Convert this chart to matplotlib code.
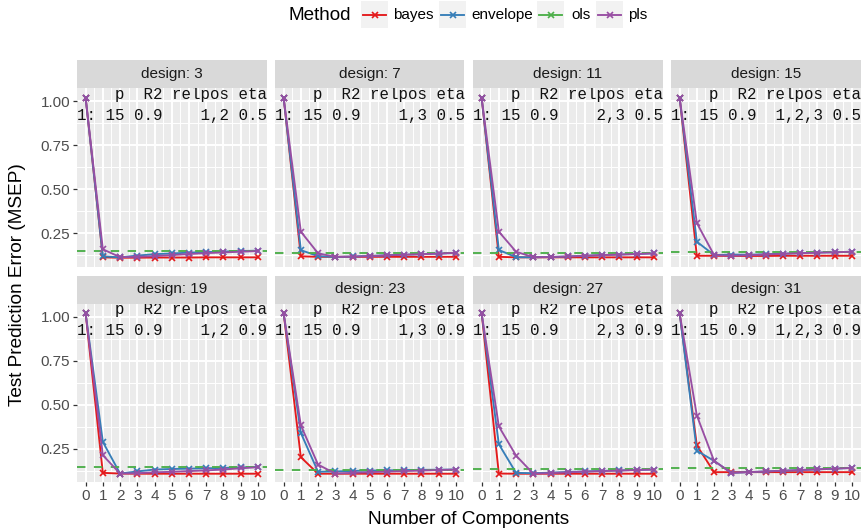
import matplotlib
matplotlib.use("Agg")
import matplotlib.pyplot as plt
from matplotlib.patches import Rectangle
import numpy as np

# MSEP by number of components, one row per design
components = np.arange(11)
designs = [3, 7, 11, 15, 19, 23, 27, 31]
relpos = ["1,2", "1,3", "2,3", "1,2,3", "1,2", "1,3", "2,3", "1,2,3"]
eta = ["0.5", "0.5", "0.5", "0.5", "0.9", "0.9", "0.9", "0.9"]
n_pred = 15
r2 = "0.9"

bayes = [
    [1.02, 0.112, 0.110, 0.110, 0.111, 0.111, 0.111, 0.112, 0.112, 0.112, 0.112],
    [1.02, 0.118, 0.115, 0.115, 0.115, 0.115, 0.115, 0.115, 0.115, 0.115, 0.115],
    [1.02, 0.115, 0.112, 0.112, 0.112, 0.112, 0.112, 0.112, 0.112, 0.112, 0.112],
    [1.02, 0.121, 0.121, 0.120, 0.120, 0.120, 0.121, 0.121, 0.121, 0.121, 0.121],
    [1.02, 0.112, 0.108, 0.107, 0.107, 0.107, 0.107, 0.107, 0.107, 0.107, 0.107],
    [1.02, 0.201, 0.107, 0.107, 0.107, 0.107, 0.107, 0.107, 0.107, 0.107, 0.107],
    [1.02, 0.108, 0.107, 0.107, 0.107, 0.107, 0.107, 0.107, 0.107, 0.107, 0.107],
    [1.02, 0.268, 0.116, 0.116, 0.116, 0.116, 0.116, 0.116, 0.116, 0.116, 0.116],
]
envelope = [
    [1.02, 0.118, 0.112, 0.122, 0.130, 0.134, 0.139, 0.142, 0.145, 0.148, 0.150],
    [1.02, 0.153, 0.119, 0.114, 0.117, 0.120, 0.124, 0.127, 0.130, 0.133, 0.137],
    [1.02, 0.154, 0.113, 0.112, 0.114, 0.117, 0.121, 0.125, 0.128, 0.131, 0.135],
    [1.02, 0.201, 0.125, 0.128, 0.127, 0.130, 0.133, 0.136, 0.139, 0.141, 0.144],
    [1.02, 0.288, 0.108, 0.120, 0.131, 0.134, 0.136, 0.138, 0.140, 0.143, 0.146],
    [1.02, 0.339, 0.118, 0.120, 0.123, 0.125, 0.126, 0.128, 0.129, 0.130, 0.131],
    [1.02, 0.275, 0.112, 0.110, 0.113, 0.117, 0.120, 0.123, 0.126, 0.129, 0.131],
    [1.02, 0.238, 0.180, 0.112, 0.116, 0.120, 0.124, 0.128, 0.132, 0.136, 0.140],
]
pls = [
    [1.02, 0.158, 0.113, 0.115, 0.119, 0.125, 0.131, 0.136, 0.140, 0.144, 0.148],
    [1.02, 0.258, 0.135, 0.115, 0.116, 0.119, 0.123, 0.127, 0.130, 0.134, 0.138],
    [1.02, 0.258, 0.144, 0.113, 0.114, 0.117, 0.121, 0.125, 0.128, 0.131, 0.135],
    [1.02, 0.307, 0.125, 0.121, 0.124, 0.128, 0.132, 0.136, 0.139, 0.141, 0.144],
    [1.02, 0.212, 0.108, 0.110, 0.115, 0.118, 0.122, 0.126, 0.131, 0.138, 0.144],
    [1.02, 0.382, 0.159, 0.108, 0.112, 0.116, 0.119, 0.122, 0.125, 0.128, 0.131],
    [1.02, 0.376, 0.210, 0.107, 0.111, 0.115, 0.119, 0.122, 0.125, 0.128, 0.131],
    [1.02, 0.438, 0.180, 0.112, 0.116, 0.120, 0.124, 0.128, 0.132, 0.136, 0.140],
]
ols = [0.150, 0.138, 0.138, 0.144, 0.146, 0.131, 0.135, 0.138]

methods = ["bayes", "envelope", "ols", "pls"]
colors = {"bayes": "#E41A1C", "envelope": "#377EB8", "ols": "#4DAF4A", "pls": "#984EA3"}

sans = "Liberation Sans"
mono = "Liberation Mono"
plt.rcParams["font.family"] = sans

W, H = 864, 531
fig = plt.figure(figsize=(W / 100, H / 100), dpi=100)


def px_axes(x0, y0, x1, y1):
    return fig.add_axes([x0 / W, 1 - y1 / H, (x1 - x0) / W, (y1 - y0) / H])


col_left = [77 + 198 * i for i in range(4)]
col_w = 189.5
row_top = [88, 303.5]
row_h = 178.5
strip_h = 28
lw = 1.35

for k, d in enumerate(designs):
    r, c = divmod(k, 4)
    x0, y0 = col_left[c], row_top[r]
    ax = px_axes(x0, y0, x0 + col_w, y0 + row_h)
    ax.set_facecolor("#EBEBEB")
    for s in ax.spines.values():
        s.set_visible(False)
    ax.set_xlim(-0.5, 10.5)
    ax.set_ylim(0.06, 1.075)
    ax.set_xticks(components)
    ax.set_xticks(np.arange(0.5, 10, 1), minor=True)
    ax.set_yticks([0.25, 0.50, 0.75, 1.00])
    ax.set_yticks([0.125, 0.375, 0.625, 0.875], minor=True)
    ax.grid(which="major", color="white", lw=1.4)
    ax.grid(which="minor", color="white", lw=0.7)
    ax.set_axisbelow(True)
    ax.tick_params(which="major", length=3, width=0.9, color="#333333",
                   labelsize=11, labelcolor="#4D4D4D", pad=2)
    ax.tick_params(which="minor", length=0)
    if r == 1:
        ax.set_xticklabels([str(v) for v in components])
    else:
        ax.set_xticklabels([])
        ax.tick_params(axis="x", which="major", length=0)
    if c == 0:
        ax.set_yticklabels(["0.25", "0.50", "0.75", "1.00"])
    else:
        ax.set_yticklabels([])
        ax.tick_params(axis="y", which="major", length=0)

    series = {"bayes": bayes[k], "envelope": envelope[k], "pls": pls[k]}
    for m in ["bayes", "envelope"]:
        ax.plot(components, series[m], color=colors[m], lw=lw,
                marker="x", ms=4.5, mew=1.2, zorder=3)
    ax.axhline(ols[k], color=colors["ols"], lw=lw, dashes=(4.5, 4.5), zorder=3.5)
    ax.plot(components, series["pls"], color=colors["pls"], lw=lw,
            marker="x", ms=4.5, mew=1.2, zorder=4)

    # design settings table
    head = "    p  R2 relpos eta"
    row = f"1: {n_pred} {r2} {relpos[k]:>6} {eta[k]}"
    ax.text(-0.48, 1.04, head, family=mono, size=11.3, ha="left", va="center",
            color="#111111", zorder=5)
    ax.text(-0.48, 0.92, row, family=mono, size=11.3, ha="left", va="center",
            color="#111111", zorder=5)

    st = px_axes(x0, y0 - strip_h, x0 + col_w, y0)
    st.set_facecolor("#D9D9D9")
    st.set_xticks([])
    st.set_yticks([])
    for s in st.spines.values():
        s.set_visible(False)
    st.text(0.5, 0.5, f"design: {d}", ha="center", va="center", size=11,
            color="#1A1A1A", transform=st.transAxes)

fig.text(18 / W, 1 - 285 / H, "Test Prediction Error (MSEP)", rotation=90,
         ha="center", va="center", size=13.7, color="black")
fig.text(468.7 / W, 1 - 519 / H, "Number of Components", ha="center",
         va="center", size=13.7, color="black")

# legend row across the top
lg = fig.add_axes([0, 1 - 30 / H, 1, 30 / H])
lg.set_xlim(0, W)
lg.set_ylim(30, 0)
lg.axis("off")
lg.text(289, 15, "Method", ha="left", va="center", size=13.6, color="black")
key_x = [361, 439, 537, 596]
lab_x = [393, 471, 571, 628]
for m, kx, tx in zip(methods, key_x, lab_x):
    lg.add_patch(Rectangle((kx, 1), 27, 27, facecolor="#F2F2F2", edgecolor="none"))
    lg.plot([kx + 2, kx + 25], [14.5, 14.5], color=colors[m], lw=lw)
    lg.plot([kx + 13.5], [14.5], color=colors[m], marker="x", ms=4.5, mew=1.2)
    lg.text(tx, 15, m, ha="left", va="center", size=11, color="black")

fig.savefig("out.png", dpi=100)
